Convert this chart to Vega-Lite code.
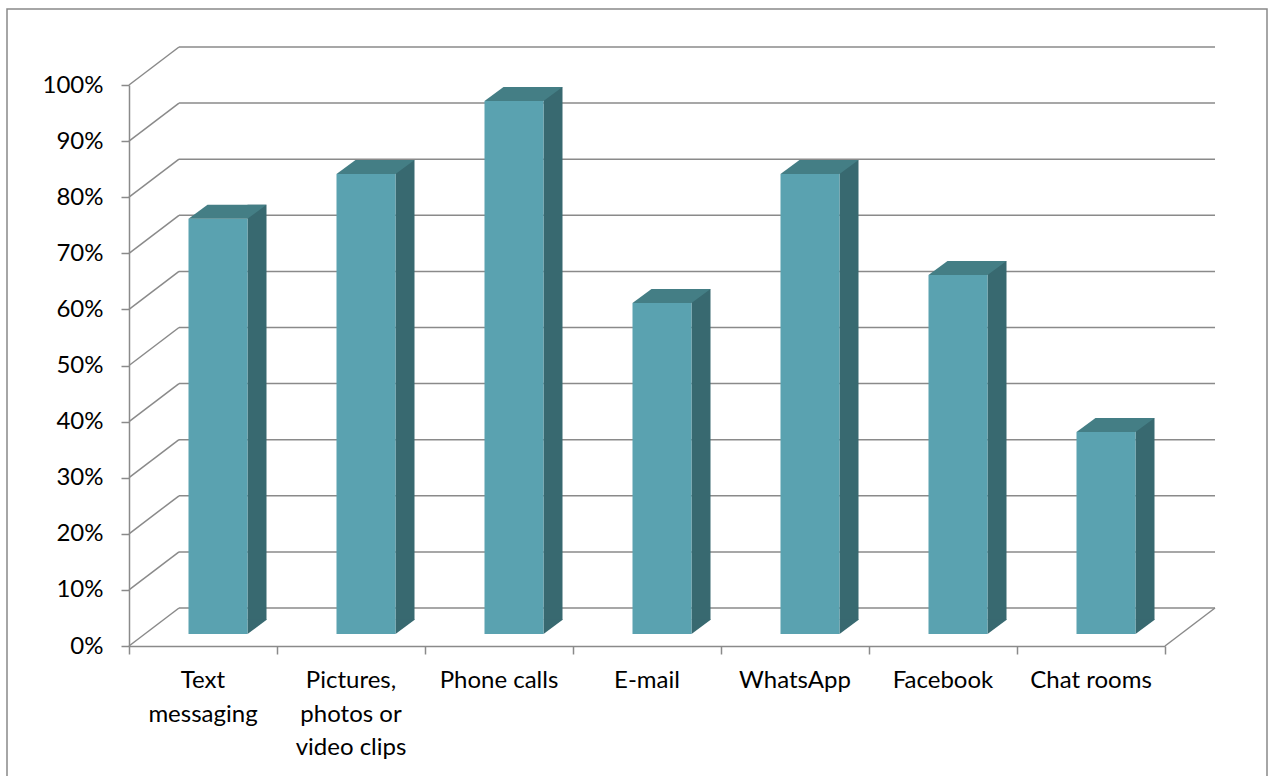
{
  "$schema": "https://vega.github.io/schema/vega-lite/v6.json",
  "width": 1036,
  "height": 561,
  "autosize": {"type": "none"},
  "padding": {"left": 129, "top": 85, "right": 104, "bottom": 130},
  "background": "white",
  "config": {
    "view": {"stroke": null},
    "font": "Lato",
    "axisX": {
      "labels": false, "grid": false,
      "domainColor": "#8a8a8a", "domainWidth": 1.5,
      "tickColor": "#8a8a8a", "tickWidth": 1.5, "tickSize": 8
    },
    "axisY": {
      "grid": false,
      "domainColor": "#8a8a8a", "domainWidth": 1.5,
      "tickColor": "#8a8a8a", "tickWidth": 1.5, "tickSize": 8,
      "labelPadding": 18, "labelFont": "Lato", "labelFontSize": 24, "labelColor": "#000000"
    }
  },
  "datasets": {
    "bars": [
      {"idx": 0, "category": "Text messaging", "label": "Text\nmessaging", "value": 0.74},
      {"idx": 1, "category": "Pictures, photos or video clips", "label": "Pictures,\nphotos or\nvideo clips", "value": 0.82},
      {"idx": 2, "category": "Phone calls", "label": "Phone calls", "value": 0.95},
      {"idx": 3, "category": "E-mail", "label": "E-mail", "value": 0.59},
      {"idx": 4, "category": "WhatsApp", "label": "WhatsApp", "value": 0.82},
      {"idx": 5, "category": "Facebook", "label": "Facebook", "value": 0.64},
      {"idx": 6, "category": "Chat rooms", "label": "Chat rooms", "value": 0.36}
    ],
    "ticks": [
      {"t": 0}, {"t": 0.1}, {"t": 0.2}, {"t": 0.3}, {"t": 0.4}, {"t": 0.5},
      {"t": 0.6}, {"t": 0.7}, {"t": 0.8}, {"t": 0.9}, {"t": 1}
    ],
    "one": [{"k": 1}]
  },
  "layer": [
    {
      "data": {"name": "one"},
      "mark": {"type": "rect", "filled": false, "color": "#898989", "strokeWidth": 1.5, "xOffset": -122, "x2Offset": 102, "yOffset": -76, "y2Offset": 140},
      "encoding": {
        "x": {"datum": -0.5, "type": "quantitative", "scale": {"domain": [-0.5, 6.5], "nice": false, "zero": false, "padding": 0},
              "axis": {"title": null, "values": [-0.5, 0.5, 1.5, 2.5, 3.5, 4.5, 5.5, 6.5]}},
        "x2": {"datum": 6.5},
        "y": {"datum": 1, "type": "quantitative", "scale": {"domain": [0, 1], "nice": false, "padding": 0},
              "axis": {"title": null, "format": ".0%", "values": [0, 0.1, 0.2, 0.3, 0.4, 0.5, 0.6, 0.7, 0.8, 0.9, 1]}},
        "y2": {"datum": 0}
      }
    },
    {
      "data": {"name": "ticks"},
      "mark": {"type": "rule", "color": "#8a8a8a", "strokeWidth": 1.5, "xOffset": 50, "x2Offset": 50, "yOffset": -38, "y2Offset": -38},
      "encoding": {
        "x": {"datum": -0.5, "type": "quantitative", "axis": {"title": null, "values": [-0.5, 0.5, 1.5, 2.5, 3.5, 4.5, 5.5, 6.5]}},
        "x2": {"datum": 6.5},
        "y": {"field": "t", "type": "quantitative", "axis": {"title": null, "format": ".0%", "values": [0, 0.1, 0.2, 0.3, 0.4, 0.5, 0.6, 0.7, 0.8, 0.9, 1]}},
        "y2": {"field": "t"}
      }
    },
    {
      "data": {"name": "ticks"},
      "mark": {"type": "rule", "color": "#8a8a8a", "strokeWidth": 1.5, "x2Offset": 50, "y2Offset": -38},
      "encoding": {
        "x": {"datum": -0.5, "type": "quantitative", "axis": {"title": null, "values": [-0.5, 0.5, 1.5, 2.5, 3.5, 4.5, 5.5, 6.5]}},
        "x2": {"datum": -0.5},
        "y": {"field": "t", "type": "quantitative", "axis": {"title": null, "format": ".0%", "values": [0, 0.1, 0.2, 0.3, 0.4, 0.5, 0.6, 0.7, 0.8, 0.9, 1]}},
        "y2": {"field": "t"}
      }
    },
    {
      "data": {"name": "one"},
      "mark": {"type": "rule", "color": "#8a8a8a", "strokeWidth": 1.5, "x2Offset": 50, "y2Offset": -38},
      "encoding": {
        "x": {"datum": 6.5, "type": "quantitative", "axis": {"title": null, "values": [-0.5, 0.5, 1.5, 2.5, 3.5, 4.5, 5.5, 6.5]}},
        "x2": {"datum": 6.5},
        "y": {"datum": 0, "type": "quantitative", "axis": {"title": null, "format": ".0%", "values": [0, 0.1, 0.2, 0.3, 0.4, 0.5, 0.6, 0.7, 0.8, 0.9, 1]}},
        "y2": {"datum": 0}
      }
    },
    {
      "data": {"name": "bars"},
      "mark": {"type": "bar", "color": "#386970", "width": 19, "xOffset": 54, "yOffset": -26, "y2Offset": -26},
      "encoding": {
        "x": {"field": "idx", "type": "quantitative", "axis": {"title": null, "values": [-0.5, 0.5, 1.5, 2.5, 3.5, 4.5, 5.5, 6.5]}},
        "y": {"field": "value", "type": "quantitative", "axis": {"title": null, "format": ".0%", "values": [0, 0.1, 0.2, 0.3, 0.4, 0.5, 0.6, 0.7, 0.8, 0.9, 1]}},
        "y2": {"datum": 0}
      }
    },
    {
      "data": {"name": "bars"},
      "mark": {"type": "point", "shape": "M0,0L0,-0.73L0.975,-0.73Z", "size": 1600, "filled": true, "opacity": 1, "color": "#386970", "strokeWidth": 0, "xOffset": 44.5, "yOffset": -12},
      "encoding": {
        "x": {"field": "idx", "type": "quantitative", "axis": {"title": null, "values": [-0.5, 0.5, 1.5, 2.5, 3.5, 4.5, 5.5, 6.5]}},
        "y": {"datum": 0, "type": "quantitative", "axis": {"title": null, "format": ".0%", "values": [0, 0.1, 0.2, 0.3, 0.4, 0.5, 0.6, 0.7, 0.8, 0.9, 1]}}
      }
    },
    {
      "data": {"name": "bars"},
      "mark": {"type": "bar", "color": "#5aa2b0", "width": 59, "xOffset": 15, "yOffset": -12, "y2Offset": -12},
      "encoding": {
        "x": {"field": "idx", "type": "quantitative", "axis": {"title": null, "values": [-0.5, 0.5, 1.5, 2.5, 3.5, 4.5, 5.5, 6.5]}},
        "y": {"field": "value", "type": "quantitative", "axis": {"title": null, "format": ".0%", "values": [0, 0.1, 0.2, 0.3, 0.4, 0.5, 0.6, 0.7, 0.8, 0.9, 1]}},
        "y2": {"datum": 0}
      }
    },
    {
      "data": {"name": "bars"},
      "mark": {"type": "point", "shape": "M-0.59,0L0.59,0L0.97,-0.28L-0.21,-0.28Z", "size": 10000, "filled": true, "opacity": 1, "color": "#447e85", "strokeWidth": 0, "xOffset": 15, "yOffset": -12},
      "encoding": {
        "x": {"field": "idx", "type": "quantitative", "axis": {"title": null, "values": [-0.5, 0.5, 1.5, 2.5, 3.5, 4.5, 5.5, 6.5]}},
        "y": {"field": "value", "type": "quantitative", "axis": {"title": null, "format": ".0%", "values": [0, 0.1, 0.2, 0.3, 0.4, 0.5, 0.6, 0.7, 0.8, 0.9, 1]}}
      }
    },
    {
      "data": {"name": "bars"},
      "mark": {"type": "text", "font": "Lato", "fontSize": 24, "color": "#000000", "align": "center", "baseline": "alphabetic", "lineBreak": "\n", "lineHeight": 33.5, "yOffset": 42},
      "encoding": {
        "x": {"field": "idx", "type": "quantitative", "axis": {"title": null, "values": [-0.5, 0.5, 1.5, 2.5, 3.5, 4.5, 5.5, 6.5]}},
        "y": {"datum": 0, "type": "quantitative", "axis": {"title": null, "format": ".0%", "values": [0, 0.1, 0.2, 0.3, 0.4, 0.5, 0.6, 0.7, 0.8, 0.9, 1]}},
        "text": {"field": "label"}
      }
    }
  ]
}
